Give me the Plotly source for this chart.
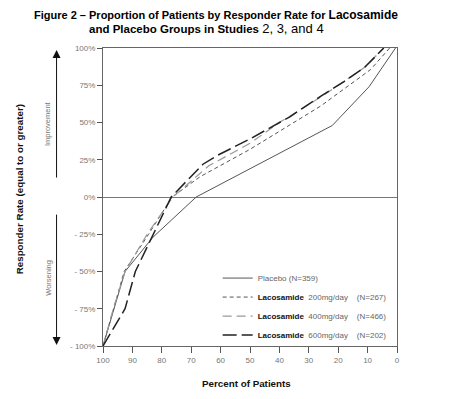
import plotly.graph_objects as go

# ---- data ----
pct_placebo = [100, 92.5, 83, 68.3, 22, 9.5, 0.5]
resp_placebo = [-100, -50, -27, 0, 48, 74, 100]

pct_200 = [100, 92.8, 84.5, 76.5, 66.9, 50, 26, 16, 9, 2.5]
resp_200 = [-100, -50, -25, 0, 13.7, 32, 61, 75.4, 85.5, 100]

pct_400 = [100, 96.5, 92.5, 85, 76.2, 64, 50, 40, 26, 18, 11, 4.5]
resp_400 = [-100, -75, -50, -25, 0, 21, 36, 50, 67, 77.5, 87, 100]

pct_600 = [100, 92.5, 89, 76.8, 66, 61, 50, 36.3, 26, 18, 11, 4.5]
resp_600 = [-100, -75, -50, 0, 22, 28, 39, 54, 67.5, 77.5, 87, 100]

series_names = [
    "<span style='color:#666'>Placebo (N=359)</span>",
    "<b>Lacosamide</b>\u00a0 <span style='color:#666'>200mg/day\u00a0\u00a0\u00a0 (N=267)</span>",
    "<b>Lacosamide</b>\u00a0 <span style='color:#666'>400mg/day\u00a0\u00a0\u00a0 (N=466)</span>",
    "<b>Lacosamide</b>\u00a0 <span style='color:#666'>600mg/day\u00a0\u00a0\u00a0 (N=202)</span>",
]

x_ticks = [100, 90, 80, 70, 60, 50, 40, 30, 20, 10, 0]
y_ticks = [100, 75, 50, 25, 0, -25, -50, -75, -100]
y_ticktext = ["100%", "75%", "50%", "25%", "0%", "- 25%", "- 50%", "- 75%", "- 100%"]

NARROW = "Liberation Sans Narrow, Arial Narrow, Liberation Sans, Arial"
ARIAL = "Liberation Sans, Arial"

fig = go.Figure()
fig.add_trace(go.Scatter(x=pct_placebo, y=resp_placebo, mode="lines", name=series_names[0],
                         line=dict(color="#555555", width=1, dash="solid")))
fig.add_trace(go.Scatter(x=pct_200, y=resp_200, mode="lines", name=series_names[1],
                         line=dict(color="#555555", width=1, dash="4px,3px")))
fig.add_trace(go.Scatter(x=pct_400, y=resp_400, mode="lines", name=series_names[2],
                         line=dict(color="#999999", width=1.2, dash="9px,5px")))
fig.add_trace(go.Scatter(x=pct_600, y=resp_600, mode="lines", name=series_names[3],
                         line=dict(color="#222222", width=1.5, dash="14px,5px")))

# the page body has an 8px default margin, so the figure is drawn 8px smaller
fig.update_layout(
    width=445, height=391, autosize=False,
    margin=dict(l=95, r=56, t=40, b=53),
    paper_bgcolor="white", plot_bgcolor="white",
    font=dict(family=ARIAL, size=8, color="#777777"),
    showlegend=True,
    legend=dict(x=0.39, y=-0.012, xanchor="left", yanchor="bottom",
                bgcolor="rgba(255,255,255,0)", borderwidth=0,
                font=dict(family=ARIAL, size=8, color="#111111"),
                itemwidth=30, tracegroupgap=0),
    xaxis=dict(range=[100, 0], tickvals=x_ticks, ticks="outside", ticklen=6,
               tickcolor="#555555", showgrid=False, zeroline=False,
               showline=True, linecolor="#666666", linewidth=1, mirror=True,
               tickfont=dict(family=ARIAL, size=8, color="#777777")),
    yaxis=dict(range=[-100, 100], tickvals=y_ticks, ticktext=y_ticktext,
               ticks="outside", ticklen=5, tickcolor="#555555", showgrid=False,
               zeroline=True, zerolinecolor="#777777", zerolinewidth=1,
               showline=True, linecolor="#666666", linewidth=1, mirror=True,
               tickfont=dict(family=ARIAL, size=8, color="#777777")),
)

annotations = [
    dict(text="<b>Figure 2 – Proportion of Patients by Responder Rate for </b>"
              "<span style='font-family:Liberation Sans, Arial;font-size:12px'><b>Lacosamide</b></span>",
         x=0.384, y=1.111, xref="paper", yref="paper", showarrow=False,
         xanchor="center", yanchor="middle",
         font=dict(family=NARROW, size=11, color="#000000")),
    dict(text="<b>and Placebo Groups in Studies </b>"
              "<span style='font-family:Liberation Sans, Arial;font-size:13px'>2, 3, and 4</span>",
         x=0.353, y=1.067, xref="paper", yref="paper", showarrow=False,
         xanchor="center", yanchor="middle",
         font=dict(family=NARROW, size=11.5, color="#000000")),
    dict(text="<b>Responder Rate (equal to or greater)</b>", textangle=-90,
         x=-0.281, y=0.527, xref="paper", yref="paper", showarrow=False,
         xanchor="center", yanchor="middle",
         font=dict(family=NARROW, size=9.8, color="#111111")),
    dict(text="<b>Percent of Patients</b>",
         x=0.489, y=-0.125, xref="paper", yref="paper", showarrow=False,
         xanchor="center", yanchor="middle",
         font=dict(family=NARROW, size=9.8, color="#111111")),
    dict(text="Improvement", textangle=-90,
         x=-0.188, y=0.747, xref="paper", yref="paper", showarrow=False,
         xanchor="center", yanchor="middle",
         font=dict(family=ARIAL, size=7.5, color="#777777")),
    dict(text="Worsening", textangle=-90,
         x=-0.188, y=0.228, xref="paper", yref="paper", showarrow=False,
         xanchor="center", yanchor="middle",
         font=dict(family=ARIAL, size=7.5, color="#777777")),
    # direction arrows
    dict(text="", x=-0.158, y=0.993, xref="paper", yref="paper",
         ax=0, ay=129, showarrow=True, arrowhead=2, arrowsize=1.6,
         arrowwidth=1, arrowcolor="#111111"),
    dict(text="", x=-0.158, y=0.003, xref="paper", yref="paper",
         ax=0, ay=-132, showarrow=True, arrowhead=2, arrowsize=1.6,
         arrowwidth=1, arrowcolor="#111111"),
]
fig.update_layout(annotations=annotations)

fig.write_html("out.html")
